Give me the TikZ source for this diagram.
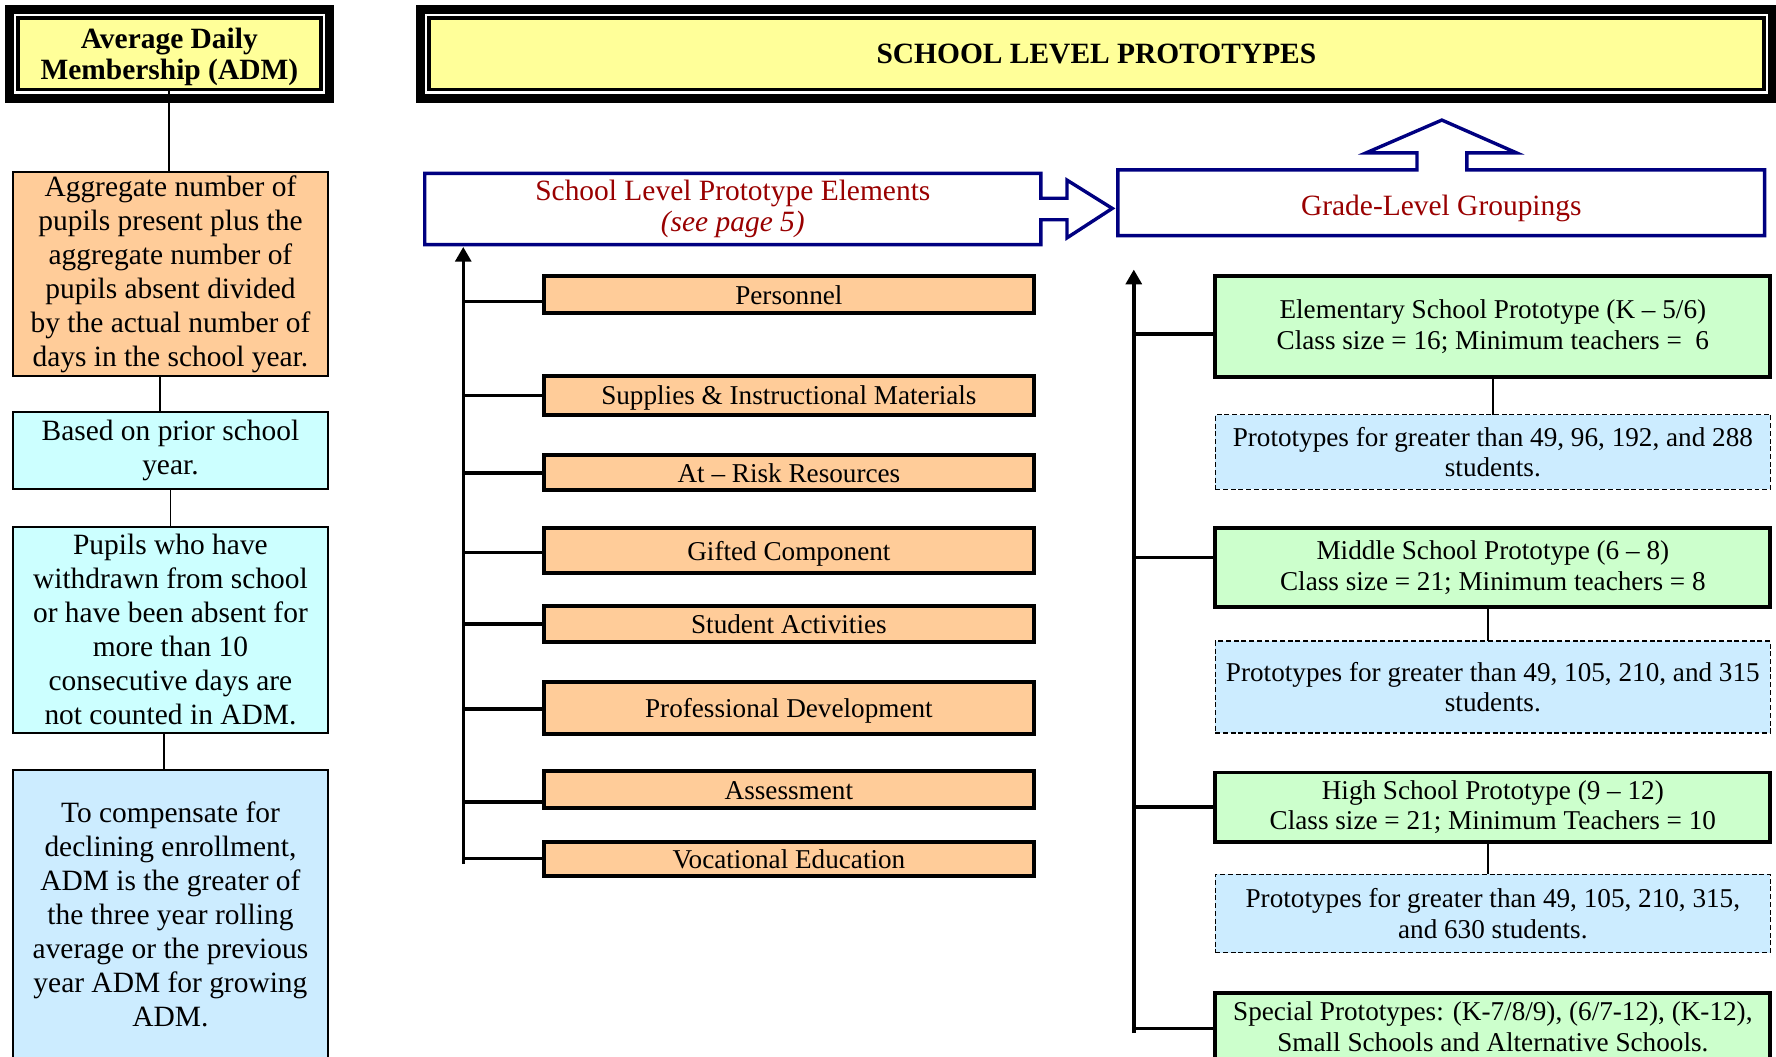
\documentclass[tikz,border=0pt]{standalone}
\usepackage{fontspec}
\setmainfont{Liberation Serif}
\usepackage{tikz}
\usetikzlibrary{arrows.meta, calc}
\definecolor{headYellow}{HTML}{FFFF99}
\definecolor{barOrange}{HTML}{FFCC99}
\definecolor{noteCyan}{HTML}{CCFFFF}
\definecolor{noteBlue}{HTML}{CCECFF}
\definecolor{protoGreen}{HTML}{CCFFCC}
\definecolor{frameNavy}{HTML}{000080}
\definecolor{textMaroon}{HTML}{990000}

\begin{document}
\begin{tikzpicture}[x=0.5pt, y=-0.5pt, outer sep=0pt,
	headbox/.style={fill=headYellow, draw=black, line width=1.75pt, minimum height=31.5pt, inner sep=1pt, align=center, font=\fontsize{13}{14}\selectfont\bfseries},
	dblframe/.style={draw=black, line width=4pt},
	notebox/.style={draw=black, line width=0.75pt, minimum width=139pt, inner sep=1pt, align=center, font=\fontsize{13}{15}\selectfont},
	heading/.style={text=textMaroon, align=center, inner sep=1pt, font=\fontsize{13}{14}\selectfont},
	navyframe/.style={draw=frameNavy, line width=1.5pt, line join=miter},
	bar/.style={fill=barOrange, draw=black, line width=1.75pt, minimum width=216.5pt, inner sep=1pt, text height=8.5pt, text depth=0pt, font=\fontsize{12}{13.5}\selectfont},
	proto/.style={fill=protoGreen, draw=black, line width=1.75pt, minimum width=245pt, inner sep=2pt, align=center, font=\fontsize{12}{13.5}\selectfont},
	sizes/.style={fill=noteBlue, draw=black, line width=0.6pt, dash pattern=on 2.2pt off 1.2pt, minimum width=245pt, inner sep=2pt, align=center, font=\fontsize{12}{13.5}\selectfont},
	branch/.style={draw=black, line width=1.5pt},
	link/.style={draw=black, line width=0.75pt}]

	\useasboundingbox (0,0) rectangle (1568,933);
	\clip (0,0) rectangle (1568,933);

	\node[headbox, minimum width=133.5pt, text depth=0pt] (adm) at (149.5,47.5) {Average Daily\\Membership (ADM)};
	\node[headbox, minimum width=589pt] (title) at (968,47.5) {SCHOOL LEVEL PROTOTYPES};
	\draw[dblframe] ([shift={(-8,-8)}]adm.north west) rectangle ([shift={(8,8)}]adm.south east);
	\draw[dblframe] ([shift={(-8,-8)}]title.north west) rectangle ([shift={(8,8)}]title.south east);

	\node[notebox, fill=barOrange, minimum height=90pt] (agg) at (150.5,242) {Aggregate number of\\pupils present plus the\\aggregate number of\\pupils absent divided\\by the actual number of\\days in the school year.};
	\node[notebox, fill=noteCyan, minimum height=34pt] (based) at (150.5,398) {Based on prior school\\year.};
	\node[notebox, fill=noteCyan, minimum height=91pt] (pupils) at (150.5,556) {Pupils who have\\withdrawn from school\\or have been absent for\\more than 10\\consecutive days are\\not counted in ADM.};
	\node[notebox, fill=noteBlue, minimum height=127.25pt] (comp) at (150.5,807.25) {To compensate for\\declining enrollment,\\ADM is the greater of\\the three year rolling\\average or the previous\\year ADM for growing\\ADM.};

	\draw[link] (adm.south) -- (adm.south |- agg.north);
	\draw[link] ([xshift=-4.75pt]agg.south) -- ([xshift=-4.75pt]based.north);
	\draw[link] (based.south) -- (pupils.north);
	\draw[link] ([xshift=-2.75pt]pupils.south) -- ([xshift=-2.75pt]comp.north);

	\node[heading, minimum width=272pt, minimum height=31.5pt] (slpe) at (647,184.5) {School Level Prototype Elements\\\textit{(see page 5)}};
	\draw[navyframe] (slpe.north east) -- (slpe.north west) -- (slpe.south west) -- (slpe.south east)
		-- ++(0,-22) -- ++(23,0) -- ++(0,16) -- ++(40,-26) -- ++(-40,-25) -- ++(0,16) -- ++(-23,0) -- cycle;

	\node[heading, minimum width=285.5pt, minimum height=29pt, text height=11pt, text depth=0pt] (grade) at (1272.5,179) {Grade-Level Groupings};
	\draw[navyframe] (grade.north west) -- ++(264,0) -- ++(0,-15) -- ++(-45,0) -- ++(67,-29) -- ++(66,29) -- ++(-44,0) -- ++(0,15)
		-- (grade.north east) -- (grade.south east) -- (grade.south west) -- cycle;

	\node[bar, minimum height=16pt] (pers) at (696.5,260) {Personnel};
	\node[bar, minimum height=17pt] (supp) at (696.5,349) {Supplies \& Instructional Materials};
	\node[bar, minimum height=15.5pt] (risk) at (696.5,417.5) {At -- Risk Resources};
	\node[bar, minimum height=20pt] (gift) at (696.5,486) {Gifted Component};
	\node[bar, minimum height=16pt] (act) at (696.5,551) {Student Activities};
	\node[bar, minimum height=23pt] (prof) at (696.5,625) {Professional Development};
	\node[bar, minimum height=16pt] (assess) at (696.5,697) {Assessment};
	\node[bar, minimum height=15pt] (voc) at (696.5,758) {Vocational Education};

	\node[proto, minimum height=44.5pt] (elem) at (1318,288.5) {Elementary School Prototype (K -- 5/6)\\Class size = 16; Minimum teachers = \ 6};
	\node[sizes, minimum height=33pt] (elemN) at (1318,399) {Prototypes for greater than 49, 96, 192, and 288\\students.};
	\node[proto, minimum height=35pt] (mid) at (1318,501) {Middle School Prototype (6 -- 8)\\Class size = 21; Minimum teachers = 8};
	\node[sizes, minimum height=40.5pt] (midN) at (1318,606.5) {Prototypes for greater than 49, 105, 210, and 315\\students.};
	\node[proto, minimum height=30.5pt] (high) at (1318,712.5) {High School Prototype (9 -- 12)\\Class size = 21; Minimum Teachers = 10};
	\node[sizes, minimum height=34.5pt] (highN) at (1318,806.5) {Prototypes for greater than 49, 105, 210, 315,\\and 630 students.};
	\node[proto, minimum height=29.5pt] (spec) at (1318,906.5) {Special Prototypes: (K-7/8/9), (6/7-12), (K-12),\\Small Schools and Alternative Schools.};

	\draw[link] (elem.south) -- (elemN.north);
	\draw[link] ([xshift=-2pt]mid.south) -- ([xshift=-2pt]midN.north);
	\draw[link] ([xshift=-2pt]high.south) -- ([xshift=-2pt]highN.north);

	\coordinate (spineL) at (409,763);
	\coordinate (spineR) at (1001,912);
	\coordinate (spineRtop) at (1001,238);

	\draw[branch, -{Triangle[length=6.5pt, width=7pt]}, shorten >=1pt] (spineL) -- (spineL |- slpe.south);
	\foreach \n/\d in {pers/6, supp/0, risk/0, gift/2, act/0, prof/1, assess/11, voc/0}
		\draw[branch] ($(\n.west)+(0,\d)$) -- ($(\n.west -| spineL)+(0,\d)$);

	\draw[branch, -{Triangle[length=6.5pt, width=7pt]}] (spineR) -- (spineRtop);
	\foreach \n/\d in {elem/6.5, mid/-9, high/0, spec/1.5}
		\draw[branch] ($(\n.west)+(0,\d)$) -- ($(\n.west -| spineR)+(0,\d)$);

\end{tikzpicture}
\end{document}
